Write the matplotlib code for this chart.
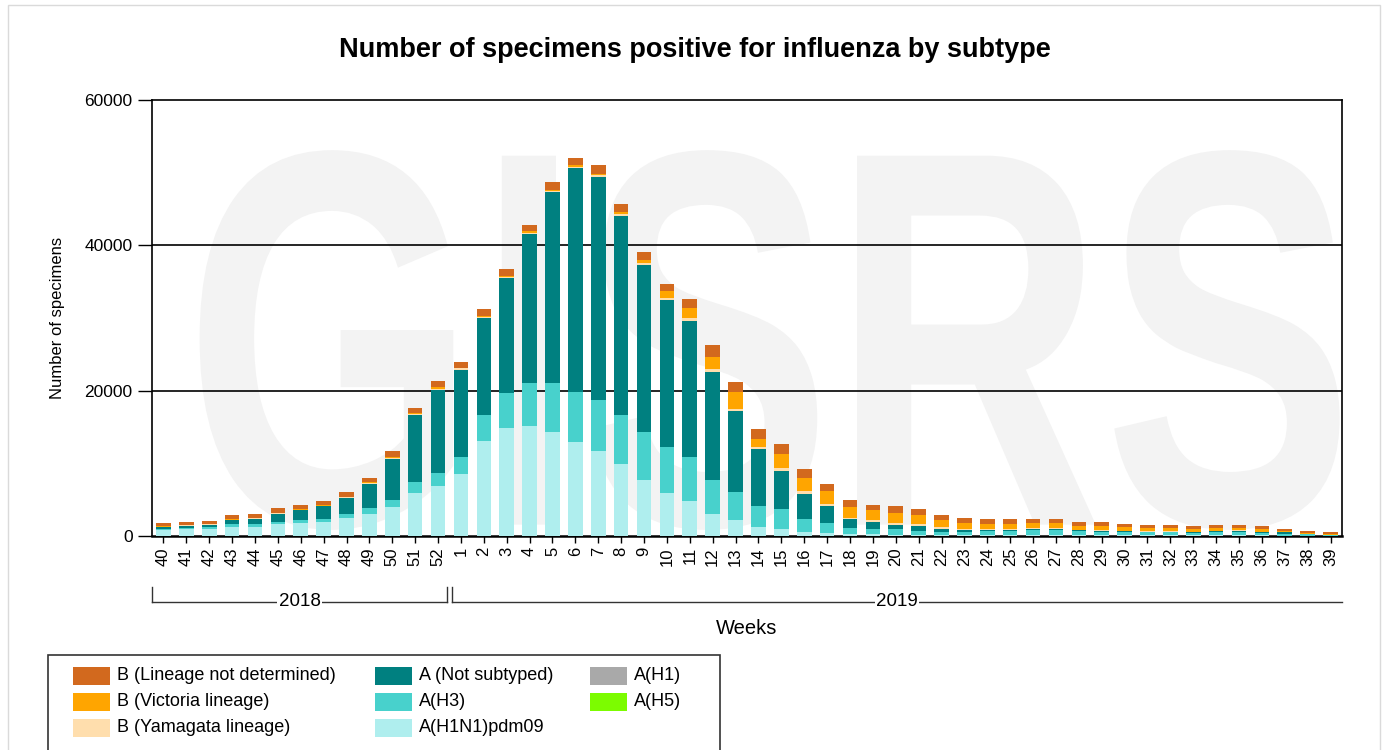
"""
Number of specimens positive for influenza by subtype, weeks 40/2018 - 39/2019
"""
import matplotlib
matplotlib.use('Agg')
import matplotlib.pyplot as plt
import matplotlib.transforms as mtransforms
from matplotlib.patches import Rectangle, PathPatch
from matplotlib.textpath import TextPath
from matplotlib.font_manager import FontProperties
import numpy as np

plt.rcParams['font.family'] = ['Liberation Sans', 'DejaVu Sans']

# week labels (2018: 40-52, 2019: 1-39)
weeks = [str(w) for w in range(40, 53)] + [str(w) for w in range(1, 40)]

a_h1n1pdm09 = [830, 920, 1000, 1240, 1240, 1610, 1800, 1930, 2440, 3000, 3960, 5930, 6900,
               8510, 13020, 14810, 15180, 14350, 12970, 11640, 9890, 7730, 5980, 4830, 2990, 2160,
               1240, 1010, 550, 410, 230, 230, 110, 100, 90, 90, 90, 90, 130, 130, 100, 100,
               90, 80, 80, 70, 80, 80, 70, 60, 40, 30]
a_h3 = [140, 180, 180, 370, 370, 300, 370, 460, 550, 920, 970, 1520, 1790,
        2350, 3680, 4880, 5890, 6720, 6850, 7040, 6810, 6620, 6260, 6030, 4690, 3910,
        2850, 2760, 1840, 1380, 920, 780, 800, 640, 520, 500, 600, 600, 700, 740, 580, 450,
        480, 450, 450, 380, 480, 420, 400, 230, 180, 100]
a_h5 = [0] * 52
a_h1 = [0] * 52
a_not_subtyped = [280, 300, 400, 600, 740, 1150, 1380, 1700, 2300, 3300, 5700, 9200, 11450,
                  12050, 13250, 15820, 20470, 26220, 30770, 30770, 27370, 22950, 20290, 18720, 14950, 11090,
                  7820, 5200, 3450, 2350, 1200, 920, 600, 600, 410, 230, 140, 140, 140, 140, 100, 80,
                  70, 60, 60, 50, 60, 250, 60, 200, 40, 20]
b_yamagata = [50, 50, 50, 60, 60, 60, 60, 60, 60, 80, 100, 120, 150,
              150, 180, 180, 200, 200, 220, 220, 250, 280, 280, 370, 370, 320,
              280, 320, 370, 230, 180, 230, 230, 320, 180, 140, 140, 140, 140, 140, 100, 180,
              100, 80, 80, 70, 80, 60, 60, 40, 40, 20]
b_victoria = [60, 60, 60, 80, 80, 80, 80, 80, 80, 100, 120, 150, 150,
              120, 150, 150, 170, 170, 200, 200, 250, 450, 920, 1470, 1700, 2390,
              1150, 1930, 1790, 1790, 1470, 1380, 1380, 1240, 1010, 830, 690, 690, 640, 600, 550, 600,
              500, 420, 420, 420, 370, 320, 400, 150, 180, 100]
b_not_determined = [400, 420, 420, 550, 600, 600, 550, 650, 650, 650, 850, 700, 830,
                    740, 1000, 920, 920, 1060, 1060, 1150, 1150, 1010, 1010, 1150, 1520, 1290,
                    1380, 1380, 1200, 1060, 920, 780, 970, 780, 690, 690, 690, 690, 600, 600, 500, 550,
                    480, 450, 450, 370, 420, 350, 360, 300, 250, 220]

# stacking order bottom -> top
series = [
    ('A(H1N1)pdm09', a_h1n1pdm09, '#AFEEEE'),
    ('A(H3)', a_h3, '#48D1CC'),
    ('A(H5)', a_h5, '#7CFC00'),
    ('A(H1)', a_h1, '#A9A9A9'),
    ('A (Not subtyped)', a_not_subtyped, '#008080'),
    ('B (Yamagata lineage)', b_yamagata, '#FFDEAD'),
    ('B (Victoria lineage)', b_victoria, '#FFA500'),
    ('B (Lineage not determined)', b_not_determined, '#D2691E'),
]
legend_order = ['B (Lineage not determined)', 'B (Victoria lineage)', 'B (Yamagata lineage)',
                'A (Not subtyped)', 'A(H3)', 'A(H1N1)pdm09', 'A(H1)', 'A(H5)']

W, H = 1387, 750


def fx(px):
    return px / W


def fy(py):
    return 1 - py / H


fig = plt.figure(figsize=(W / 100, H / 100), dpi=100)
fig.patches.append(Rectangle((fx(8), fy(755)), fx(1372), fy(5) - fy(755), transform=fig.transFigure,
                             facecolor='none', edgecolor='#DADADA', lw=1))

ax = fig.add_axes([fx(152), fy(536), fx(1190), 436 / H])

# watermark
tp = TextPath((0, 0), 'GISRS', size=100, prop=FontProperties(family='Liberation Sans', weight='bold'))
ext = tp.get_extents()
x0, x1, y0, y1 = 0.04, 0.998, 0.014, 0.885
wm_tr = (mtransforms.Affine2D().translate(-ext.x0, -ext.y0)
         .scale((x1 - x0) / ext.width, (y1 - y0) / ext.height).translate(x0, y0) + ax.transAxes)
ax.add_patch(PathPatch(tp, transform=wm_tr, facecolor='#F3F3F3', edgecolor='none', zorder=0))

x = np.arange(len(weeks))
bottom = np.zeros(len(weeks))
for name, vals, color in series:
    vals = np.array(vals, dtype=float)
    ax.bar(x, vals, width=0.64, bottom=bottom, color=color, edgecolor='none', zorder=3)
    bottom += vals

for yv in [20000, 40000]:
    ax.axhline(yv, color='black', lw=1.2, zorder=1)

ax.set_xlim(-0.5, len(weeks) - 0.5)
ax.set_ylim(0, 60000)
ax.set_yticks([0, 20000, 40000, 60000])
ax.set_yticklabels(['0', '20000', '40000', '60000'], fontsize=12.5)
ax.set_xticks(x)
ax.set_xticklabels(weeks, rotation=90, fontsize=12)
ax.tick_params(axis='y', length=10, width=1, pad=4)
ax.tick_params(axis='x', length=5, width=1, pad=3)
for sp in ax.spines.values():
    sp.set_color('black')
    sp.set_linewidth(1.2)
ax.spines['bottom'].set_linewidth(1.8)

ax.set_ylabel('Number of specimens', fontsize=12, labelpad=14)

fig.text(fx(695), fy(50), 'Number of specimens positive for influenza by subtype',
         ha='center', va='center', fontsize=19.5, fontweight='bold')

# year brackets under the week labels
tr = mtransforms.blended_transform_factory(ax.transData, ax.transAxes)


def ay(py):
    return (536 - py) / 436


for (xa, xb, label, right_end) in [(-0.5, 12.4, '2018', True), (12.6, 51.5, '2019', False)]:
    ax.plot([xa, xb], [ay(602), ay(602)], color='#333333', lw=1, transform=tr, clip_on=False)
    ax.plot([xa, xa], [ay(587), ay(602)], color='#333333', lw=1, transform=tr, clip_on=False)
    if right_end:
        ax.plot([xb, xb], [ay(587), ay(602)], color='#333333', lw=1, transform=tr, clip_on=False)
    ax.text((xa + xb) / 2, ay(602), label, transform=tr, ha='center', va='center', fontsize=13.5,
            bbox=dict(facecolor='white', edgecolor='none', pad=1))

ax.text(0.5, ay(629), 'Weeks', transform=ax.transAxes, ha='center', va='center', fontsize=14.5)

# legend box
fig.patches.append(Rectangle((fx(48), fy(770)), fx(672), fy(655) - fy(770), transform=fig.transFigure,
                             facecolor='white', edgecolor='#333333', lw=1.2))
colors = {name: color for name, _, color in series}
col_x = [73, 375, 590]
row_y = [676, 702, 728]
for i, name in enumerate(legend_order):
    cx = col_x[i // 3]
    cy = row_y[i % 3]
    fig.patches.append(Rectangle((fx(cx), fy(cy + 9)), fx(37), fy(cy - 9) - fy(cy + 9),
                                 transform=fig.transFigure, facecolor=colors[name], edgecolor='none'))
    fig.text(fx(cx + 44), fy(cy), name, ha='left', va='center', fontsize=13)

fig.savefig('out.png', dpi=100)
